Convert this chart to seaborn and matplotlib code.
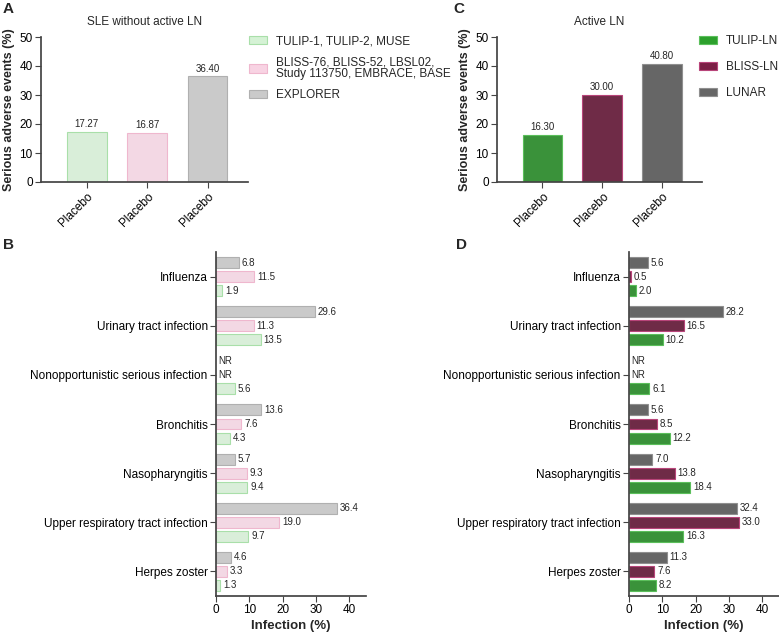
import numpy as np
import pandas as pd
import matplotlib
matplotlib.use("Agg")
import matplotlib.pyplot as plt
from matplotlib.patches import Patch
import seaborn as sns

# panel A / C: serious adverse events in placebo arms
studies_a = ["TULIP-1, TULIP-2, MUSE",
             "BLISS-76, BLISS-52, LBSL02,\nStudy 113750, EMBRACE, BASE",
             "EXPLORER"]
sae_a = [17.27, 16.87, 36.40]

studies_c = ["TULIP-LN", "BLISS-LN", "LUNAR"]
sae_c = [16.30, 30.00, 40.80]

arm_labels = ["Placebo", "Placebo", "Placebo"]

# panel B / D: infections
infections = ["Influenza", "Urinary tract infection",
              "Nonopportunistic serious infection", "Bronchitis",
              "Nasopharyngitis", "Upper respiratory tract infection",
              "Herpes zoster"]
explorer_b = [6.8, 29.6, np.nan, 13.6, 5.7, 36.4, 4.6]
bliss_b = [11.5, 11.3, np.nan, 7.6, 9.3, 19.0, 3.3]
tulip_b = [1.9, 13.5, 5.6, 4.3, 9.4, 9.7, 1.3]

lunar_d = [5.6, 28.2, np.nan, 5.6, 7.0, 32.4, 11.3]
blissln_d = [0.5, 16.5, np.nan, 8.5, 13.8, 33.0, 7.6]
tulipln_d = [2.0, 10.2, 6.1, 12.2, 18.4, 16.3, 8.2]

light_fill = ["#d5f2d5", "#f8d3e3", "#cacaca"]
light_edge = ["#a9dfa9", "#efb7ce", "#b0b0b0"]
dark_fill = ["#2ca02c", "#7b1f45", "#666666"]
dark_edge = ["#5bbf5b", "#b8457a", "#8f8f8f"]

sns.set_theme(style="ticks")
plt.rcParams["font.family"] = ["Liberation Sans", "DejaVu Sans"]
plt.rcParams["axes.edgecolor"] = "#444444"
plt.rcParams["xtick.color"] = "#444444"
plt.rcParams["ytick.color"] = "#444444"
plt.rcParams["xtick.labelcolor"] = "black"
plt.rcParams["ytick.labelcolor"] = "black"

W, H = 779, 634
fig = plt.figure(figsize=(W / 100, H / 100), dpi=100)


def px_axes(left, top, right, bottom):
    return fig.add_axes([left / W, 1 - bottom / H, (right - left) / W, (bottom - top) / H])


def sae_panel(ax, studies, values, fill, edge, title):
    df = pd.DataFrame({"study": studies, "sae": values})
    sns.barplot(data=df, x="study", y="sae", hue="study", hue_order=studies,
                order=studies, palette=fill, width=0.66, legend=False,
                errorbar=None, ax=ax)
    for c, ec in zip(ax.containers, edge):
        for p in c:
            p.set_edgecolor(ec)
            p.set_linewidth(0.8)
        ax.bar_label(c, fmt="%.2f", padding=2, fontsize=7)
    ax.set_xlim(-0.76, 2.67)
    ax.set_ylim(0, 50)
    ax.set_yticks([0, 10, 20, 30, 40, 50])
    ax.set_xticks(range(len(studies)))
    ax.set_xticklabels(arm_labels, rotation=45, ha="right", rotation_mode="anchor")
    ax.tick_params(axis="both", labelsize=8.5, length=4, width=0.8, pad=2)
    ax.set_xlabel("")
    ax.set_ylabel("Serious adverse events (%)", fontsize=9, fontweight="bold", labelpad=3)
    ax.set_title(title, fontsize=8.5, pad=8.5)
    sns.despine(ax=ax)


def infection_panel(ax, series, names, fill, edge):
    # top bar -> bottom bar order inside each group
    df = pd.DataFrame({"infection": np.tile(infections, 3),
                       "study": np.repeat(names, len(infections)),
                       "value": np.concatenate(series)})
    width = 0.857
    sns.barplot(data=df, x="value", y="infection", hue="study", order=infections,
                hue_order=names, palette=fill, width=width, gap=0.22,
                errorbar=None, orient="h", legend=False, ax=ax)
    for c, ec in zip(ax.containers, edge):
        for p in c:
            p.set_edgecolor(ec)
            p.set_linewidth(0.8)
        ax.bar_label(c, fmt="%.1f", padding=2, fontsize=7)
    # NR labels for missing values
    step = width / 3
    for k, s in enumerate(series):
        for i, v in enumerate(s):
            if np.isnan(v):
                ax.text(0.6, i + (k - 1) * step, "NR", fontsize=7, va="center", ha="left")
    ax.set_xlim(0, 45)
    ax.set_ylim(len(infections) - 0.5, -0.5)
    ax.set_xticks([0, 10, 20, 30, 40])
    ax.tick_params(axis="both", labelsize=8.5, length=4, width=0.8, pad=2)
    ax.set_ylabel("")
    ax.set_xlabel("Infection (%)", fontsize=9.5, fontweight="bold", labelpad=3)
    sns.despine(ax=ax)


ax_a = px_axes(41, 37, 248, 182)
sae_panel(ax_a, studies_a, sae_a, light_fill, light_edge, "SLE without active LN")

ax_c = px_axes(497, 37, 702, 182)
sae_panel(ax_c, studies_c, sae_c, dark_fill, dark_edge, "Active LN")

ax_b = px_axes(216, 252, 366, 596)
infection_panel(ax_b, [explorer_b, bliss_b, tulip_b],
                ["EXPLORER", "BLISS", "TULIP"],
                light_fill[::-1], light_edge[::-1])

ax_d = px_axes(629, 252, 779, 596)
infection_panel(ax_d, [lunar_d, blissln_d, tulipln_d],
                ["LUNAR", "BLISS-LN", "TULIP-LN"],
                dark_fill[::-1], dark_edge[::-1])

# legends
handles_a = [Patch(facecolor=f, edgecolor=e, linewidth=0.8) for f, e in zip(light_fill, light_edge)]
leg_a = fig.legend(handles_a, studies_a, loc="upper left",
                   bbox_to_anchor=(249 / W, 1 - 35 / H), frameon=False,
                   fontsize=8.5, handlelength=1.5, handleheight=0.7,
                   handletextpad=0.8, labelspacing=0.8, borderpad=0, borderaxespad=0)
for t in leg_a.get_texts():
    t.set_linespacing(0.95)

handles_c = [Patch(facecolor=f, edgecolor=e, linewidth=0.8) for f, e in zip(dark_fill, dark_edge)]
fig.legend(handles_c, studies_c, loc="upper left",
           bbox_to_anchor=(699 / W, 1 - 35 / H), frameon=False,
           fontsize=8.5, handlelength=1.5, handleheight=0.7,
           handletextpad=0.8, labelspacing=1.2, borderpad=0, borderaxespad=0)

# panel letters
for letter, x, y in [("A", 3, 2), ("B", 3, 238), ("C", 453, 2), ("D", 456, 238)]:
    fig.text(x / W, 1 - y / H, letter, fontsize=11, fontweight="bold", va="top", ha="left")

fig.savefig("out.png", dpi=100)
